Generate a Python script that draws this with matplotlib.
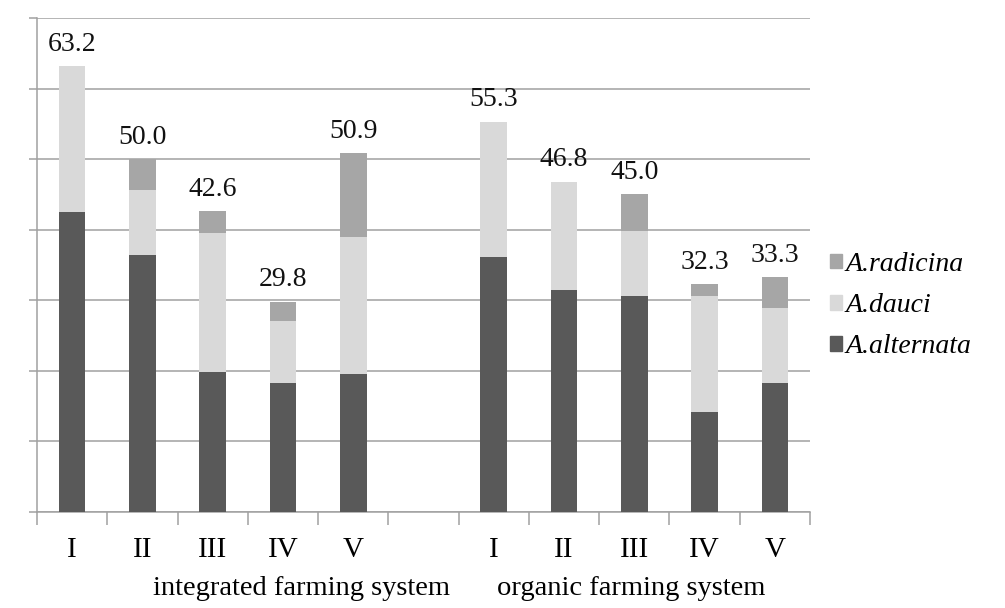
import matplotlib
matplotlib.use("Agg")
import matplotlib.pyplot as plt
from matplotlib.patches import Patch

# --- data ---
bar_labels = ["I", "II", "III", "IV", "V", "I", "II", "III", "IV", "V"]
positions = [0, 1, 2, 3, 4, 6, 7, 8, 9, 10]  # slot 5 is left empty between the groups
alternata = [42.5, 36.4, 19.8, 18.3, 19.5, 36.1, 31.4, 30.6, 14.2, 18.3]
dauci = [20.7, 9.2, 19.7, 8.7, 19.5, 19.2, 15.4, 9.2, 16.4, 10.6]
radicina = [0.0, 4.4, 3.1, 2.8, 11.9, 0.0, 0.0, 5.2, 1.7, 4.4]
group_names = ["integrated farming system", "organic farming system"]
series_names = ["A.radicina", "A.dauci", "A.alternata"]

# --- style ---
plt.rcParams['font.family'] = ['Liberation Serif', 'DejaVu Serif']
col_alt = "#595959"
col_dau = "#d9d9d9"
col_rad = "#a6a6a6"
grid_col = "#a0a0a0"

fig = plt.figure(figsize=(10.05, 6.08), dpi=100)
ax = fig.add_axes([37 / 1005, 96 / 608, 773 / 1005, 494 / 608])

width = 0.38
bottom2 = [a + d for a, d in zip(alternata, dauci)]
ax.bar(positions, alternata, width, color=col_alt, zorder=3)
ax.bar(positions, dauci, width, bottom=alternata, color=col_dau, zorder=3)
ax.bar(positions, radicina, width, bottom=bottom2, color=col_rad, zorder=3)

# totals above each bar
for x, a, d, r in zip(positions, alternata, dauci, radicina):
    total = a + d + r
    ax.annotate(f"{total:.1f}", (x, total), xytext=(0, 11), textcoords="offset points",
                ha="center", va="baseline", fontsize=20, color="#111111")

ax.set_xlim(-0.5, 10.5)
ax.set_ylim(0, 70)
ax.set_yticks(range(0, 71, 10))
ax.set_yticklabels([])
ax.yaxis.grid(True, color=grid_col, linewidth=1.1, zorder=0)

# x ticks at slot boundaries, labels at bar centres
ax.set_xticks([i - 0.5 for i in range(12)])
ax.set_xticklabels([])
ax.set_xticks(positions, minor=True)
ax.set_xticklabels(bar_labels, minor=True, fontsize=21)
ax.tick_params(axis="x", which="minor", length=0, pad=18)
ax.tick_params(axis="x", which="major", length=9, color=grid_col, width=1.1)
ax.tick_params(axis="y", length=6, color=grid_col, width=1.1)

for side in ["top", "right"]:
    ax.spines[side].set_visible(False)
for side in ["left", "bottom"]:
    ax.spines[side].set_color(grid_col)
    ax.spines[side].set_linewidth(1.1)

# group names under the tick labels
ax.text(3.26, -0.155, group_names[0], transform=ax.get_xaxis_transform(),
        ha="center", va="center", fontsize=20.5)
ax.text(7.95, -0.155, group_names[1], transform=ax.get_xaxis_transform(),
        ha="center", va="center", fontsize=20.5)

handles = [Patch(color=col_rad), Patch(color=col_dau), Patch(color=col_alt)]
fig.legend(handles, series_names, loc="center left", bbox_to_anchor=(0.826, 0.497),
           frameon=False, prop={"style": "italic", "size": 20},
           handlelength=0.42, handleheight=0.42, handletextpad=0.15,
           labelspacing=0.58, borderpad=0, borderaxespad=0)

fig.savefig("out.png", dpi=100)
